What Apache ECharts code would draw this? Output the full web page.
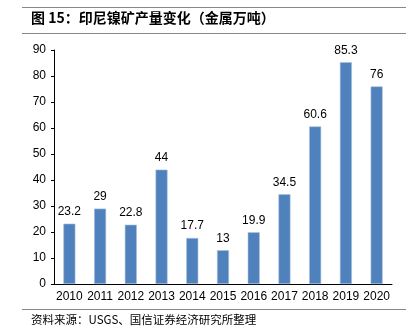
<!DOCTYPE html>
<html><head><meta charset="utf-8">
<script src="https://cdn.jsdelivr.net/npm/echarts@6/dist/echarts.min.js"></script>
<style>html,body{margin:0;padding:0;background:#fff}#c{width:417px;height:333px}</style>
</head><body><div id="c"></div>
<script>
const categories = ['2010','2011','2012','2013','2014','2015','2016','2017','2018','2019','2020'];
const production = [23.2, 29, 22.8, 44, 17.7, 13, 19.9, 34.5, 60.6, 85.3, 76];
const yTicks = {min: 0, max: 90, interval: 10};
const titleText = '图 15：印尼镍矿产量变化（金属万吨）';
const sourceText = '资料来源：USGS、国信证券经济研究所整理';

const chart = echarts.init(document.getElementById('c'), null, {renderer: 'canvas'});
chart.setOption({
  animation: false,
  grid: {left: 54, right: 25, top: 50, bottom: 49},
  xAxis: {
    type: 'category', data: categories,
    axisLine: {lineStyle: {color: '#000', width: 1}},
    axisTick: {show: false},
    axisLabel: {color: '#000', fontSize: 12, fontFamily: 'Liberation Sans, Arial', margin: 7, interval: 0}
  },
  yAxis: {
    type: 'value', min: yTicks.min, max: yTicks.max, interval: yTicks.interval,
    splitLine: {show: false},
    axisLine: {show: true, lineStyle: {color: '#000', width: 1}},
    axisTick: {show: true, length: 3, inside: false, lineStyle: {color: '#000'}},
    axisLabel: {color: '#000', fontSize: 12, fontFamily: 'Liberation Sans, Arial', margin: 8}
  },
  series: [{
    type: 'bar', data: production, barWidth: 12,
    itemStyle: {color: '#4F81BD', borderColor: '#A7C0DE', borderWidth: 0.6},
    label: {show: true, position: 'top', distance: 6, color: '#000', fontSize: 12, fontFamily: 'Liberation Sans, Arial'}
  }],
  graphic: [
    {type: 'line', shape: {x1: 22, y1: 7.5, x2: 406, y2: 7.5}, style: {stroke: '#888', lineWidth: 1}},
    {type: 'line', shape: {x1: 22, y1: 33.5, x2: 406, y2: 33.5}, style: {stroke: '#888', lineWidth: 1}},
    {type: 'text', left: 31, top: 11, style: {text: titleText, fill: '#000', font: 'bold 14px "Noto Sans CJK SC", sans-serif'}},
    {type: 'line', shape: {x1: 22, y1: 309.5, x2: 406, y2: 309.5}, style: {stroke: '#888', lineWidth: 1}},
    {type: 'text', left: 31, top: 314, style: {text: sourceText, fill: '#000', font: '11.5px "Noto Sans CJK SC", sans-serif'}}
  ]
});
</script></body></html>
